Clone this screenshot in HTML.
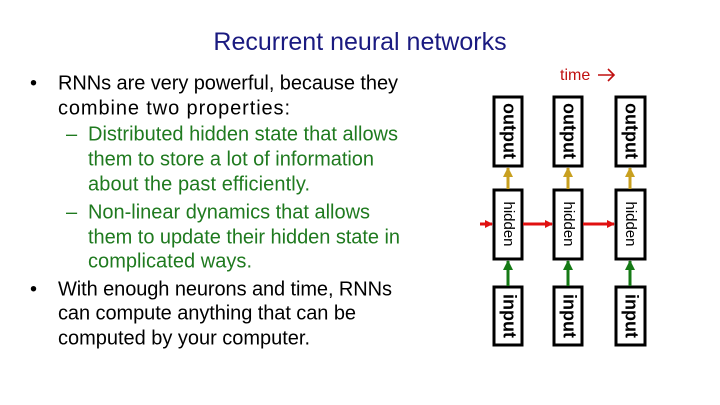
<!DOCTYPE html>
<html><head><meta charset="utf-8"><style>html,body{margin:0;padding:0;background:#fff}svg{display:block}</style></head>
<body>
<svg width="720" height="405" viewBox="0 0 720 405" xmlns="http://www.w3.org/2000/svg" font-family="Liberation Sans, Arial, sans-serif">
<defs>
<marker id="r" markerWidth="8" markerHeight="8" refX="7" refY="4" orient="auto" markerUnits="userSpaceOnUse"><path d="M0,0 L8,4 L0,8 z" fill="#e01010"/></marker>
<marker id="g" markerWidth="10" markerHeight="10" refX="9" refY="5" orient="auto" markerUnits="userSpaceOnUse"><path d="M0,0 L10,5 L0,10 z" fill="#157a15"/></marker>
<marker id="y" markerWidth="10" markerHeight="10" refX="9" refY="5" orient="auto" markerUnits="userSpaceOnUse"><path d="M0,0 L10,5 L0,10 z" fill="#c8a020"/></marker>
</defs>
<text x="360" y="50" font-size="25" fill="#1a1a80" text-anchor="middle">Recurrent neural networks</text>
<g font-size="20" dominant-baseline="middle">
<text x="30" y="84">•</text>
<text x="58" y="84" textLength="340">RNNs are very powerful, because they</text>
<text x="58" y="109" textLength="232">combine two properties:</text>
<g fill="#1f7a1f">
<text x="66" y="135">–</text>
<text x="88" y="135" textLength="310">Distributed hidden state that allows</text>
<text x="88" y="160" textLength="286">them to store a lot of information</text>
<text x="88" y="185" textLength="222">about the past efficiently.</text>
<text x="66" y="213">–</text>
<text x="88" y="213" textLength="282">Non-linear dynamics that allows</text>
<text x="88" y="238" textLength="312">them to update their hidden state in</text>
<text x="88" y="262" textLength="164">complicated ways.</text>
</g>
<text x="30" y="290">•</text>
<text x="58" y="290" textLength="334">With enough neurons and time, RNNs</text>
<text x="58" y="314" textLength="298">can compute anything that can be</text>
<text x="58" y="339" textLength="252">computed by your computer.</text>
</g>
<text x="560" y="80" font-size="16" fill="#c01010">time</text>
<path d="M598,75 L614,75 M608,69 L614,75 L608,81" fill="none" stroke="#c01010" stroke-width="1.6"/>
<g fill="none" stroke="#000" stroke-width="3">
<rect x="494" y="97" width="28" height="69"/><rect x="554" y="97" width="28" height="69"/><rect x="616" y="97" width="29" height="69"/>
<rect x="494" y="190" width="28" height="69"/><rect x="554" y="190" width="28" height="69"/><rect x="616" y="190" width="29" height="69"/>
<rect x="494" y="287" width="28" height="58"/><rect x="554" y="287" width="28" height="58"/><rect x="616" y="287" width="29" height="58"/>
</g>
<g stroke-width="3">
<line x1="508" y1="189" x2="508" y2="168" stroke="#c8a020" marker-end="url(#y)"/>
<line x1="568" y1="189" x2="568" y2="168" stroke="#c8a020" marker-end="url(#y)"/>
<line x1="630" y1="189" x2="630" y2="168" stroke="#c8a020" marker-end="url(#y)"/>
<line x1="508" y1="286" x2="508" y2="261" stroke="#157a15" marker-end="url(#g)"/>
<line x1="568" y1="286" x2="568" y2="261" stroke="#157a15" marker-end="url(#g)"/>
<line x1="630" y1="286" x2="630" y2="261" stroke="#157a15" marker-end="url(#g)"/>
<line x1="480" y1="224" x2="492" y2="224" stroke="#e01010" marker-end="url(#r)"/>
<line x1="523" y1="224" x2="552" y2="224" stroke="#e01010" marker-end="url(#r)"/>
<line x1="583" y1="224" x2="614" y2="224" stroke="#e01010" marker-end="url(#r)"/>
</g>
<g font-size="18" font-weight="bold" text-anchor="middle" dominant-baseline="middle">
<text transform="translate(508,131) rotate(90)">output</text>
<text transform="translate(568,131) rotate(90)">output</text>
<text transform="translate(630,131) rotate(90)">output</text>
<text transform="translate(508,316) rotate(90)">input</text>
<text transform="translate(568,316) rotate(90)">input</text>
<text transform="translate(630,316) rotate(90)">input</text>
</g>
<g font-size="15" text-anchor="middle" dominant-baseline="middle">
<text transform="translate(508,224) rotate(90)">hidden</text>
<text transform="translate(568,224) rotate(90)">hidden</text>
<text transform="translate(630,224) rotate(90)">hidden</text>
</g>
</svg>
</body></html>
